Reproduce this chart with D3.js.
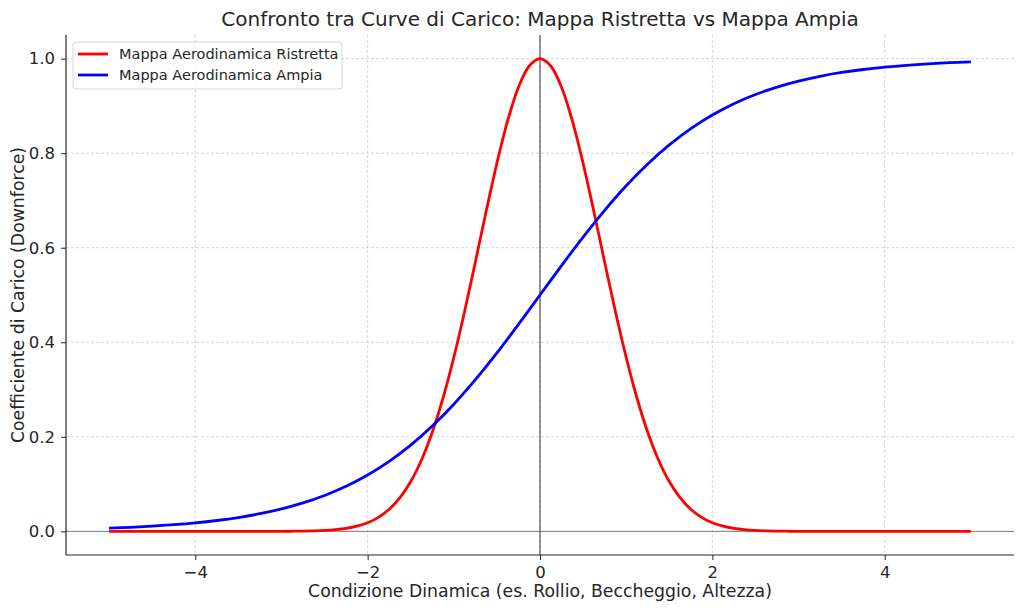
<!DOCTYPE html>
<html>
<head>
<meta charset="utf-8">
<script src="https://cdn.jsdelivr.net/npm/d3@7"></script>
<style>
  body { margin: 0; background: #fff; }
  text { font-family: "DejaVu Sans", sans-serif; fill: #262626; }
</style>
</head>
<body>
<script>
// values
// red curve sampled every 0.125, blue every 0.25, both from -5 to 5
var xRistretta = d3.range(81).map(function(i) { return -5 + i * 0.125; });
var xAmpia = d3.range(41).map(function(i) { return -5 + i * 0.25; });

var ristretta = [
  0, 0, 0, 0, 0, 0, 0, 0, 0, 0, 0, 0, 0, 0, 0, 0,
  0.0001, 0.0003, 0.0005, 0.0010, 0.0019, 0.0036, 0.0063, 0.0109,
  0.0183, 0.0297, 0.0468, 0.0713, 0.1054, 0.1510, 0.2096, 0.2821,
  0.3679, 0.4650, 0.5698, 0.6766, 0.7788, 0.8688, 0.9394, 0.9845,
  1.0,
  0.9845, 0.9394, 0.8688, 0.7788, 0.6766, 0.5698, 0.4650, 0.3679,
  0.2821, 0.2096, 0.1510, 0.1054, 0.0713, 0.0468, 0.0297, 0.0183,
  0.0109, 0.0063, 0.0036, 0.0019, 0.0010, 0.0005, 0.0003, 0.0001,
  0, 0, 0, 0, 0, 0, 0, 0, 0, 0, 0, 0, 0, 0, 0, 0
];

var ampia = [
  0.0067, 0.0086, 0.0110, 0.0141, 0.0180, 0.0230, 0.0293, 0.0373,
  0.0474, 0.0601, 0.0759, 0.0953, 0.1192, 0.1480, 0.1824, 0.2227,
  0.2689, 0.3208, 0.3775, 0.4378, 0.5, 0.5622, 0.6225, 0.6792,
  0.7311, 0.7773, 0.8176, 0.8520, 0.8808, 0.9047, 0.9241, 0.9399,
  0.9526, 0.9627, 0.9707, 0.9770, 0.9820, 0.9859, 0.9890, 0.9914, 0.9933
];

var seriesNames = ["Mappa Aerodinamica Ristretta", "Mappa Aerodinamica Ampia"];
var seriesColors = ["#ff0000", "#0000ff"];
var xTicks = [-4, -2, 0, 2, 4];
var yTicks = [0, 0.2, 0.4, 0.6, 0.8, 1.0];

var svgWidth = 1024, svgHeight = 611;
var margin = {top: 35, right: 10, bottom: 56, left: 66};
var width = svgWidth - margin.left - margin.right;
var height = svgHeight - margin.top - margin.bottom;

var svg = d3.select("body").append("svg")
    .attr("width", svgWidth)
    .attr("height", svgHeight);

var g = svg.append("g")
    .attr("transform", "translate(" + margin.left + "," + margin.top + ")");

var x = d3.scaleLinear().domain([-5.5, 5.5]).range([0, width]);
var y = d3.scaleLinear().domain([-0.05, 1.05]).range([height, 0]);

// grid
g.append("g").selectAll("line")
    .data(xTicks).enter().append("line")
    .attr("x1", function(d) { return x(d); })
    .attr("x2", function(d) { return x(d); })
    .attr("y1", 0).attr("y2", height)
    .style("stroke", "#cccccc").style("stroke-width", 0.8)
    .style("stroke-dasharray", "3,2");

g.append("g").selectAll("line")
    .data(yTicks).enter().append("line")
    .attr("x1", 0).attr("x2", width)
    .attr("y1", function(d) { return y(d); })
    .attr("y2", function(d) { return y(d); })
    .style("stroke", "#cccccc").style("stroke-width", 0.8)
    .style("stroke-dasharray", "3,2");

// zero lines
g.append("line")
    .attr("x1", 0).attr("x2", width)
    .attr("y1", y(0)).attr("y2", y(0))
    .style("stroke", "#808080").style("stroke-width", 1);

g.append("line")
    .attr("x1", x(0)).attr("x2", x(0))
    .attr("y1", 0).attr("y2", height)
    .style("stroke", "#333333").style("stroke-width", 1);

// curves
var line = d3.line()
    .x(function(d) { return x(d[0]); })
    .y(function(d) { return y(d[1]); })
    .curve(d3.curveCatmullRom);

[[xRistretta, ristretta], [xAmpia, ampia]].forEach(function(s, i) {
  g.append("path")
    .datum(s[0].map(function(xv, j) { return [xv, s[1][j]]; }))
    .attr("d", line)
    .style("fill", "none")
    .style("stroke", seriesColors[i])
    .style("stroke-width", 2.8);
});

// axes
var xAxis = g.append("g")
    .attr("transform", "translate(0," + height + ")")
    .call(d3.axisBottom(x).tickValues(xTicks).tickSize(5).tickPadding(6)
      .tickFormat(function(d) { return d < 0 ? "\u2212" + Math.abs(d) : d; }));

var yAxis = g.append("g")
    .call(d3.axisLeft(y).tickValues(yTicks).tickSize(5).tickPadding(6)
      .tickFormat(d3.format(".1f")));

[xAxis, yAxis].forEach(function(a) {
  a.select(".domain").style("stroke", "#262626").style("stroke-width", 1.2);
  a.selectAll(".tick line").style("stroke", "#262626").style("stroke-width", 1);
  a.selectAll(".tick text").style("font-size", "16.5px").style("fill", "#262626");
});
xAxis.select(".domain").attr("d", "M0,0H" + width);
yAxis.select(".domain").attr("d", "M0," + height + "V0");

// title and labels
svg.append("text")
    .attr("x", margin.left + width / 2)
    .attr("y", 26)
    .style("text-anchor", "middle")
    .style("font-size", "20px")
    .text("Confronto tra Curve di Carico: Mappa Ristretta vs Mappa Ampia");

svg.append("text")
    .attr("x", margin.left + width / 2)
    .attr("y", 597)
    .style("text-anchor", "middle")
    .style("font-size", "17.3px")
    .text("Condizione Dinamica (es. Rollio, Beccheggio, Altezza)");

svg.append("text")
    .attr("transform", "translate(24," + (margin.top + height / 2) + ") rotate(-90)")
    .style("text-anchor", "middle")
    .style("font-size", "17.3px")
    .text("Coefficiente di Carico (Downforce)");

// legend
var legend = svg.append("g").attr("transform", "translate(73,42)");
legend.append("rect")
    .attr("width", 269).attr("height", 47)
    .attr("rx", 3)
    .style("fill", "#ffffff").style("fill-opacity", 0.8)
    .style("stroke", "#d6d6d6").style("stroke-width", 1);

seriesNames.forEach(function(name, i) {
  var ly = 12 + i * 21;
  legend.append("line")
    .attr("x1", 5).attr("x2", 35)
    .attr("y1", ly).attr("y2", ly)
    .style("stroke", seriesColors[i]).style("stroke-width", 2.8);
  legend.append("text")
    .attr("x", 46).attr("y", ly + 5)
    .style("font-size", "14.5px")
    .text(name);
});
</script>
</body>
</html>
